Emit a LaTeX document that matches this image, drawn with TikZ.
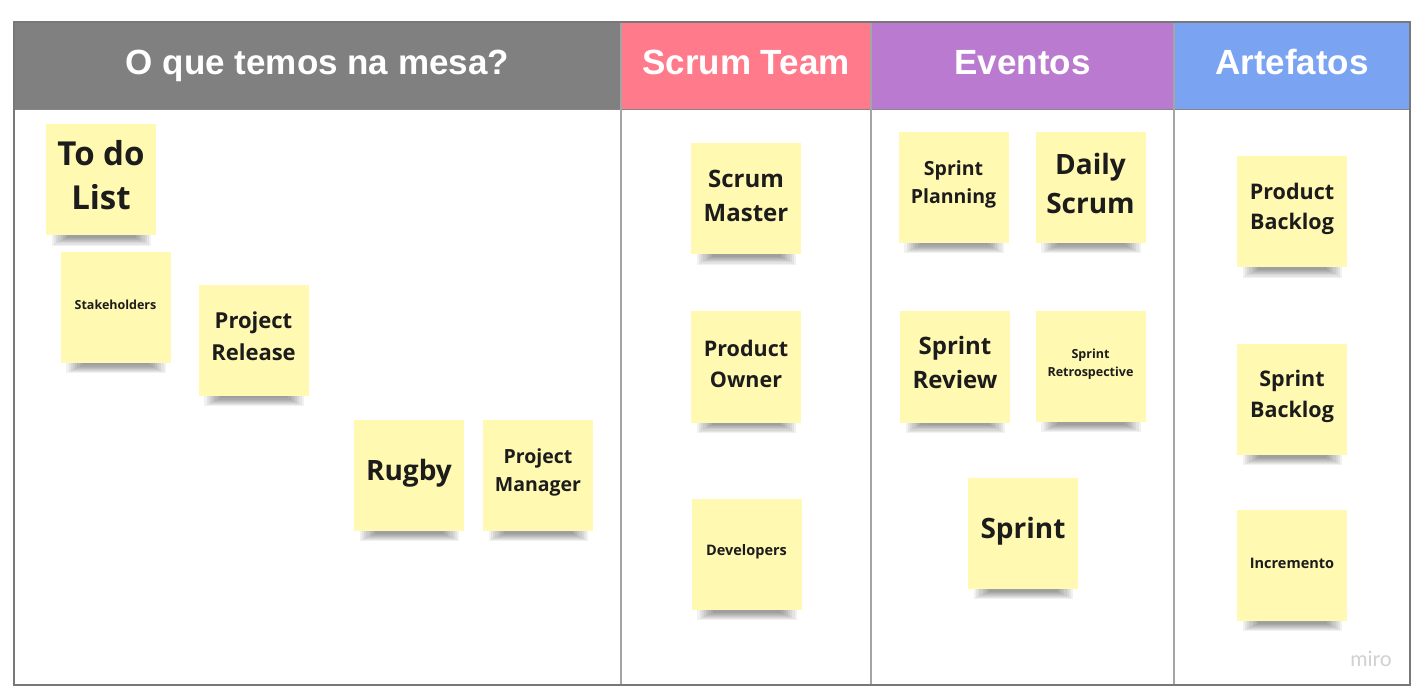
\documentclass[tikz,border=0pt]{standalone}
\usepackage{fontspec}
\setmainfont{Open Sans}
\newfontfamily\headfont{Liberation Sans}
\newfontfamily\logofont{Lato}
\pgfdeclarelayer{board}
\pgfdeclarelayer{shadow}
\pgfsetlayers{board,shadow,main}

\definecolor{notefill}{RGB}{255,249,177}
\definecolor{notetext}{RGB}{28,28,28}
\definecolor{hgray}{RGB}{128,128,128}
\definecolor{hpink}{RGB}{255,122,139}
\definecolor{hpurple}{RGB}{186,122,207}
\definecolor{hblue}{RGB}{122,164,241}
\definecolor{colrule}{RGB}{165,165,165}
\definecolor{framerule}{RGB}{120,120,120}

\tikzset{
  sticky/.style={fill=notefill, minimum width=110pt, minimum height=111pt,
    inner sep=0pt},
  stickytext/.style 2 args={align=center, text=notetext, inner sep=0pt,
    font=\fontsize{#1}{#2}\selectfont\bfseries},
  headtext/.style={text=white, anchor=base,
    font=\headfont\fontsize{35}{40}\selectfont\bfseries},
}

% \stickynote{name}{x}{y}{font size}{line skip}{lift}{text}
\newcommand\stickynote[7]{%
  \node[sticky] (#1) at (#2,#3) {};
  \node[stickytext={#4}{#5}] (#1-text) at ([yshift=#6pt]#1.center) {#7};
}

\begin{document}
\begin{tikzpicture}[x=1pt,y=-1pt]
\useasboundingbox (0,0) rectangle (1427,700);

% board: header bands, body and column rules
\begin{pgfonlayer}{board}
  \fill[white] (0,0) rectangle (1427,700);
  \fill[hgray]   (14,22)   rectangle (621,110);
  \fill[hpink]   (621,22)  rectangle (871,110);
  \fill[hpurple] (871,22)  rectangle (1174,110);
  \fill[hblue]   (1174,22) rectangle (1410,110);
  \draw[framerule!90, line width=1pt] (14,110) -- (1410,110);
  \foreach \cx in {621,871,1174}
    \draw[colrule, line width=1.4pt] (\cx,22) -- (\cx,685);
  \draw[framerule, line width=1.3pt] (14,22) rectangle (1410,685);
\end{pgfonlayer}

% column titles
\node[headtext] (hmesa)  at (317.5,75) {O que temos na mesa?};
\node[headtext] (hteam)  at (746,75)   {Scrum Team};
\node[headtext] (hevent) at (1022.5,75){Eventos};
\node[headtext] (hart)   at (1292,75)  {Artefatos};

% sticky notes
\stickynote{todo}{101}{180}{33}{44}{5}{To do\\List}
\stickynote{stake}{115.5}{307.5}{12.5}{17}{3}{Stakeholders}
\stickynote{release}{253.5}{340.5}{22}{32}{4}{Project\\Release}
\stickynote{rugby}{409}{475.5}{28}{38}{2}{Rugby}
\stickynote{manager}{538}{475.5}{19.5}{28}{3.5}{Project\\Manager}

\stickynote{smaster}{746}{199}{24}{34}{3.5}{Scrum\\Master}
\stickynote{powner}{746}{367}{21.5}{31}{3.5}{Product\\Owner}
\stickynote{devs}{746.5}{554.5}{14.5}{20}{2.5}{Developers}

\stickynote{planning}{953.5}{187.5}{19.5}{28}{3}{Sprint\\Planning}
\stickynote{daily}{1090.5}{187.5}{28}{39}{4}{Daily\\Scrum}
\stickynote{review}{955}{367}{24}{34}{4}{Sprint\\Review}
\stickynote{retro}{1090.5}{366.5}{12.5}{18}{2.5}{Sprint\\Retrospective}
\stickynote{sprint}{1023}{533.5}{28}{38}{2}{Sprint}

\stickynote{pbacklog}{1292}{212}{21.5}{30}{3.5}{Product\\Backlog}
\stickynote{sbacklog}{1292}{399.5}{21.5}{31}{3}{Sprint\\Backlog}
\stickynote{incr}{1292}{565.5}{14.5}{20}{2.5}{Incremento}

% soft shadows under the notes
\begin{pgfonlayer}{shadow}
  \foreach \n in {todo,stake,release,rugby,manager,smaster,powner,devs,
                  planning,daily,review,retro,sprint,pbacklog,sbacklog,incr}
    \foreach \k in {0,...,7}
      \fill[black, opacity=0.055]
        ([xshift={6pt+2.2pt*\k}, yshift=10pt]\n.south west) rectangle
        ([xshift={-5pt-2.2pt*\k}, yshift={-10pt+1.1pt*\k}]\n.south east);
\end{pgfonlayer}

% logo
\node[text=black!18, font=\logofont\fontsize{21}{24}\selectfont] (logo) at (1371,659) {miro};
\end{tikzpicture}
\end{document}
